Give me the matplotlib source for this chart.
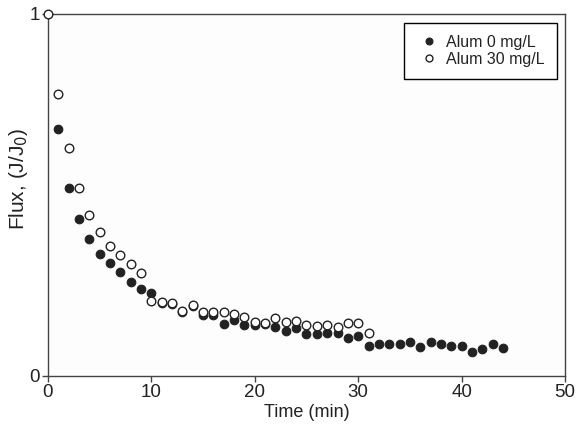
import numpy as np
import matplotlib.pyplot as plt

plt.rcParams['font.family'] = ['Liberation Sans', 'DejaVu Sans']

# Alum 0 mg/L (filled)
t0 = list(range(1, 45))
flux0 = [0.681, 0.518, 0.433, 0.378, 0.338, 0.311, 0.286, 0.261, 0.241, 0.229,
         0.202, 0.198, 0.178, 0.192, 0.169, 0.169, 0.143, 0.155, 0.141, 0.141,
         0.144, 0.136, 0.124, 0.133, 0.115, 0.115, 0.120, 0.120, 0.104, 0.110,
         0.083, 0.088, 0.088, 0.088, 0.093, 0.081, 0.093, 0.088, 0.083, 0.083,
         0.065, 0.074, 0.088, 0.078]

# Alum 30 mg/L (open)
t30 = list(range(0, 32))
flux30 = [1.0, 0.779, 0.629, 0.520, 0.444, 0.398, 0.359, 0.335, 0.309, 0.285,
          0.208, 0.204, 0.201, 0.180, 0.195, 0.176, 0.178, 0.177, 0.172, 0.164,
          0.150, 0.147, 0.159, 0.150, 0.153, 0.141, 0.138, 0.142, 0.134, 0.146,
          0.146, 0.118]

txt = '#222222'
fig = plt.figure(figsize=(5.79, 4.37), dpi=100)
ax = fig.add_axes([0.0829, 0.1396, 0.8929, 0.8284])
ax.set_facecolor('#fdfdfd')

ax.plot(t0, flux0, 'o', color='#222222', ms=6.2, mec='#222222', mew=0.8,
        label='Alum 0 mg/L', clip_on=False, zorder=3)
ax.plot(t30, flux30, 'o', mfc='white', mec='#222222', ms=6.2, mew=1.0,
        label='Alum 30 mg/L', clip_on=False, zorder=4)

ax.set_xlim(0, 50)
ax.set_ylim(0, 1)
ax.set_xticks([0, 10, 20, 30, 40, 50])
ax.set_yticks([0, 1])
ax.tick_params(direction='out', length=4, width=1, colors='#444444',
               labelcolor=txt, labelsize=13.5, pad=2)
for s in ax.spines.values():
    s.set_color('#444444')
    s.set_linewidth(1)

ax.set_xlabel('Time (min)', fontsize=13, color=txt, labelpad=2)
ax.set_ylabel('Flux, (J/J$_0$)', fontsize=15, color=txt)
ax.yaxis.set_label_coords(-0.035, 0.545)

leg = ax.legend(loc='upper right', bbox_to_anchor=(0.9845, 0.975),
                borderaxespad=0, fontsize=11.5, fancybox=False, framealpha=1,
                edgecolor='black', handletextpad=0.3, handlelength=1.6,
                labelspacing=0.12, borderpad=0.75, markerscale=0.8)
leg.get_frame().set_linewidth(1)
for t in leg.get_texts():
    t.set_color(txt)

fig.savefig('out.png', dpi=100)
